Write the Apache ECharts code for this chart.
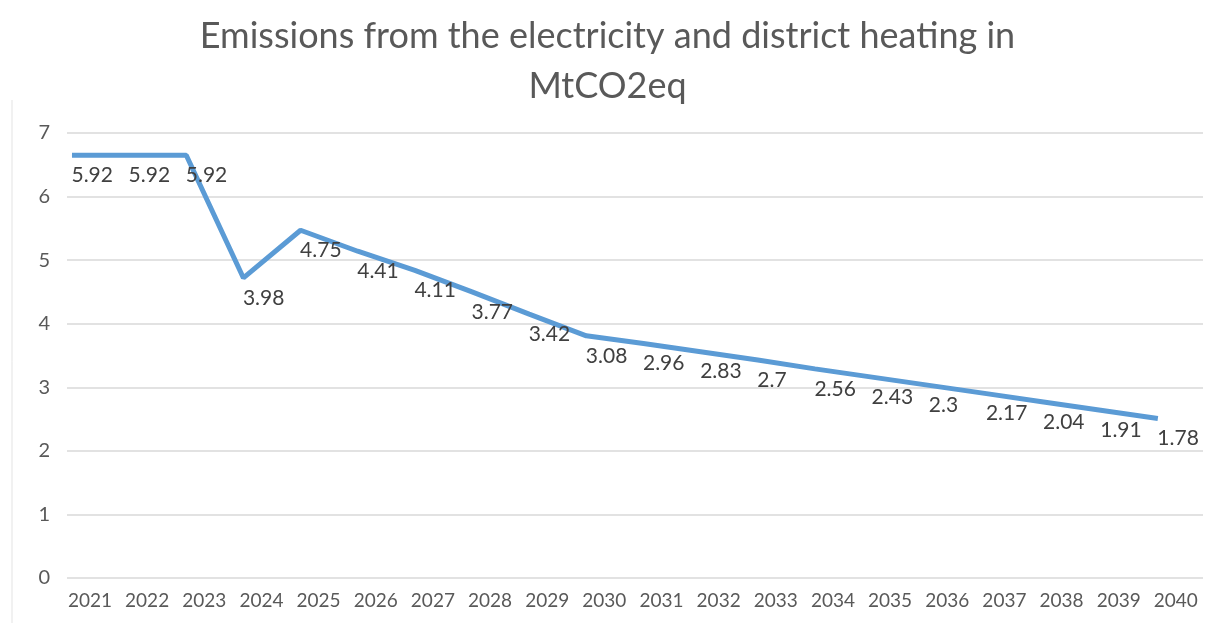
<!DOCTYPE html>
<html>
<head>
<meta charset="utf-8">
<script src="https://cdn.jsdelivr.net/npm/echarts@6/dist/echarts.min.js"></script>
<style>html,body{margin:0;padding:0;background:#fff}#c{width:1215px;height:623px}</style>
</head>
<body>
<div id="c"></div>
<script>
// Category labels (years)
const years = ['2021','2022','2023','2024','2025','2026','2027','2028','2029','2030','2031','2032','2033','2034','2035','2036','2037','2038','2039','2040'];
// Positions of the plotted line (y axis units)
const lineValues = [6.65,6.65,6.65,4.72,5.47,5.14,4.84,4.50,4.15,3.81,3.69,3.56,3.43,3.29,3.16,3.03,2.90,2.77,2.64,2.51];
// Data label texts as printed on the chart
const labelValues = ['5.92','5.92','5.92','3.98','4.75','4.41','4.11','3.77','3.42','3.08','2.96','2.83','2.7','2.56','2.43','2.3','2.17','2.04','1.91','1.78'];
// Y axis tick values
const yTicks = [0,1,2,3,4,5,6,7];

const FONT = 'Lato, "Open Sans", sans-serif';
const chart = echarts.init(document.getElementById('c'), null, {renderer:'canvas'});
chart.setOption({
  animation:false,
  backgroundColor:'#fff',
  title:{
    text:'Emissions from the electricity and district heating in\nMtCO2eq',
    left:'center', top:6,
    textStyle:{fontFamily:FONT, fontSize:36, fontWeight:'normal', color:'#595959', lineHeight:50}
  },
  graphic:[{type:'line', shape:{x1:12,y1:100,x2:12,y2:623}, style:{stroke:'#e3e3e3', lineWidth:1}}],
  grid:{left:67, right:12, top:133, bottom:45, containLabel:false},
  xAxis:{
    type:'value', min:-0.087, max:19.79,
    axisLine:{show:false}, axisTick:{show:false}, splitLine:{show:false},
    axisLabel:{
      customValues: years.map((y,i)=>i),
      formatter: v => years[Math.round(v)],
      fontFamily:FONT, fontSize:19, color:'#595959', margin:13,
      padding:[0,0,0,36]
    }
  },
  yAxis:{
    type:'value', min:yTicks[0], max:yTicks[yTicks.length-1], interval:1,
    axisLine:{show:false}, axisTick:{show:false},
    splitLine:{lineStyle:{color:'#d9d9d9', width:1.5}},
    axisLabel:{fontFamily:FONT, fontSize:20, color:'#595959', margin:17}
  },
  series:[{
    type:'line',
    data: lineValues.map((v,i)=>[i,v]),
    showSymbol:true, symbol:'circle', symbolSize:1,
    itemStyle:{color:'rgba(0,0,0,0)'},
    lineStyle:{color:'#5b9bd5', width:5},
    label:{
      show:true, position:[0,10], align:'left', verticalAlign:'top',
      formatter: p => labelValues[p.dataIndex],
      fontFamily:FONT, fontSize:21, color:'#404040'
    }
  }]
});
</script>
</body>
</html>
